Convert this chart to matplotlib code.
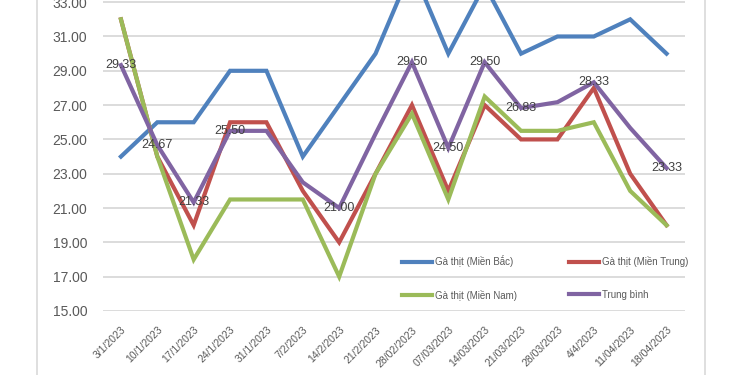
import numpy as np
import matplotlib.pyplot as plt
from matplotlib.lines import Line2D

plt.rcParams['font.family'] = ['Liberation Sans', 'DejaVu Sans']

dates = ['3/1/2023', '10/1/2023', '17/1/2023', '24/1/2023', '31/1/2023', '7/2/2023',
         '14/2/2023', '21/2/2023', '28/02/2023', '07/03/2023', '14/03/2023', '21/03/2023',
         '28/03/2023', '4/4/2023', '11/04/2023', '18/04/2023']
mien_bac = [24, 26, 26, 29, 29, 24, 27, 30, 35, 30, 34, 30, 31, 31, 32, 30]
mien_trung = [32, 24, 20, 26, 26, 22, 19, 23, 27, 22, 27, 25, 25, 28, 23, 20]
mien_nam = [32, 24, 18, 21.5, 21.5, 21.5, 17, 23, 26.5, 21.5, 27.5, 25.5, 25.5, 26, 22, 20]
trung_binh = [29.33, 24.67, 21.33, 25.50, 25.50, 22.50, 21.00, 25.33, 29.50, 24.50,
              29.50, 26.83, 27.17, 28.33, 25.67, 23.33]
# points of the average line that carry a data label
labelled = [0, 1, 2, 3, 6, 8, 9, 10, 11, 13, 15]

names = ['Gà thịt (Miền Bắc)', 'Gà thịt (Miền Trung)', 'Gà thịt (Miền Nam)', 'Trung bình']
colors = ['#4F81BD', '#C0504D', '#9BBB59', '#8064A2']

fig = plt.figure(figsize=(7.5, 3.75), dpi=100)
ax = fig.add_axes([0.137, 0.1707, 0.776, 0.915])

x = np.arange(len(dates))
series = [mien_bac, mien_trung, mien_nam, trung_binh]
handles = []
for vals, name, c in zip(series, names, colors):
    h, = ax.plot(x, vals, color=c, lw=3, label=name, solid_joinstyle='miter')
    handles.append(h)

for i in labelled:
    ax.text(x[i], trung_binh[i], f'{trung_binh[i]:.2f}', ha='center', va='center',
            fontsize=9, color='#404040')

ax.set_xlim(-0.5, len(dates) - 0.5)
ax.set_ylim(15, 35)
ax.set_yticks(np.arange(15, 35, 2))
ax.set_yticklabels([f'{v:.2f}' for v in np.arange(15, 35, 2)])
ax.set_xticks(x)
ax.set_xticklabels(dates, rotation=45, ha='right', va='top', rotation_mode='anchor')
ax.tick_params(axis='y', length=0, labelsize=10, labelcolor='#595959', pad=11)
ax.tick_params(axis='x', length=0, labelsize=7.5, labelcolor='#595959', pad=10)
ax.grid(axis='y', color='#D9D9D9', lw=1.3)
ax.set_axisbelow(True)
for s in ax.spines.values():
    s.set_visible(False)

order = [0, 2, 1, 3]
ax.legend([handles[i] for i in order], [names[i] for i in order], ncol=2,
          loc='upper left', bbox_to_anchor=(402 / 750, 1 - 255 / 375),
          bbox_transform=fig.transFigure, frameon=False, fontsize=7,
          handlelength=3.1, handletextpad=0.3, columnspacing=5.3,
          labelspacing=2.35, borderpad=0, borderaxespad=0,
          labelcolor='#595959')

# chart area border lines
fig.add_artist(Line2D([37 / 750, 37 / 750], [0, 1], color='#D9D9D9', lw=1.2))
fig.add_artist(Line2D([705 / 750, 705 / 750], [0, 1], color='#D9D9D9', lw=1.2))

fig.savefig('out.png', dpi=100)
